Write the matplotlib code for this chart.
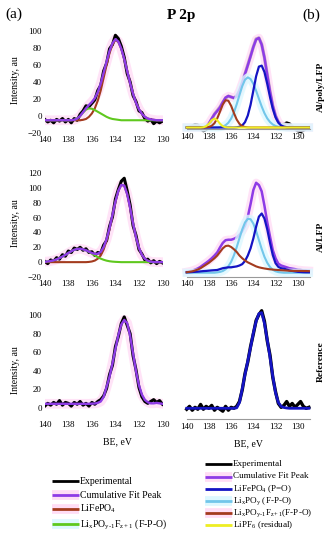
import numpy as np
import matplotlib
matplotlib.use("Agg")
import matplotlib.pyplot as plt
from matplotlib.lines import Line2D

plt.rcParams['font.family'] = ['Liberation Serif', 'DejaVu Serif']
plt.rcParams['mathtext.fontset'] = 'custom'
plt.rcParams['mathtext.rm'] = 'Liberation Serif'
plt.rcParams['mathtext.it'] = 'Liberation Serif:italic'

# binding energy grids (eV), 0.25 eV steps
be_left = np.linspace(140, 130, 41)
be_right = np.linspace(140, 129, 45)

# ---- (a) Al/poly/LFP ----
a1_exp = [-4, -7, -5, -8, -4, -6, -3, -7, -4, -8, -3, -5, 2, 6, 12, 11, 15, 19, 30, 36,
          53, 62, 79, 84, 95, 91, 82, 69, 50, 40, 24, 17, 6, 4, -3, -6, -4, -9, -6, -8, -6]
a1_cum = [-5, -5, -5, -5, -5, -5, -5, -5, -5, -5, -4.5, -3, 0, 4.5, 9, 13, 16.5, 21, 28, 38,
          51, 64, 76.5, 85.5, 90.5, 87.5, 79, 67, 53, 38.5, 26, 15.5, 8, 2.6, -1, -3, -4, -4.5, -5, -5, -5]
a1_lfp = [-5, -5, -5, -5, -5, -5, -5, -5, -5, -5, -5, -5, -5, -4.5, -3.5, -1, 3, 9, 18, 30,
          45, 60, 74, 84, 89.5, 87, 79, 67, 53, 38.5, 26, 15.5, 8, 2.6, -1, -3, -4, -4.5, -5, -5, -5]
a1_fpo = [-5, -5, -5, -5, -5, -5, -5, -5, -5, -5, -4.5, -3, 0, 4, 7.5, 9, 8.5, 7, 5, 3,
          1, -1, -2.5, -3.5, -4, -4.5, -5, -5, -5, -5, -5, -5, -5, -5, -5, -5, -5, -5, -5, -5, -5]

# ---- (a) Al/LFP ----
a2_exp = [1, -2, 3, 1, 6, 4, 10, 8, 15, 13, 19, 17, 20, 16, 18, 13, 14, 9, 13, 12,
          23, 29, 48, 61, 85, 98, 109, 113, 96, 77, 49, 36, 17, 11, 3, 4, -1, 2, -2, 1, -1]
a2_cum = [0.5, 0.9, 1.5, 2.4, 3.7, 5.5, 7.5, 9.9, 12.4, 14.7, 16.6, 17.7, 18, 17.3, 15.9, 14.1, 12.3, 11.1, 11.3, 13.7,
          20.2, 31, 45.7, 63.7, 81.4, 96.2, 104, 103, 91.5, 73, 52, 33.4, 19.2, 9.9, 4.6, 1.9, 0.7, 0.2, 0, 0, 0]
a2_lfp = [0, 0, 0, 0, 0, 0, 0, 0, 0, 0, 0, 0, 0, 0, 0, 0.3, 0.9, 2.1, 4.6, 9,
          17, 29, 44.5, 63, 81, 96, 104, 103, 91.5, 73, 52, 33.4, 19.2, 9.9, 4.6, 1.9, 0.7, 0.2, 0, 0, 0]
a2_fpo = [0.5, 0.9, 1.5, 2.4, 3.7, 5.5, 7.5, 9.9, 12.4, 14.7, 16.6, 17.7, 18, 17.3, 15.9, 13.8, 11.4, 9, 6.7, 4.7,
          3.2, 2, 1.2, 0.7, 0.4, 0.2, 0, 0, 0, 0, 0, 0, 0, 0, 0, 0, 0, 0, 0, 0, 0]

# ---- (a) Reference ----
a3_exp = [2, 5, 3, 6, 4, 8, 3, 6, 5, 2, 6, 4, 7, 3, 5, 2, 6, 4, 7, 9,
          13, 21, 36, 46, 66, 77, 91, 98, 89, 80, 56, 41, 22, 12, 7, 5, 7, 9, 6, 8, 4]
a3_cum = [4.5, 4.5, 4.5, 4.5, 4.5, 4.5, 4.5, 4.5, 4.5, 4.5, 4.5, 4.5, 4.5, 4.5, 4.5, 4.5, 4.7, 4.8, 5.5, 7,
          12, 22.7, 33.8, 47.9, 63.5, 78.5, 89.7, 94.8, 91.3, 77.6, 58.5, 39.5, 24.4, 14.4, 8.8, 6.2, 5, 5, 5.5, 5, 4.5]

# ---- (b) Al/poly/LFP ----
b1_exp = [0, 0.5, 1.5, 3, 2.5, -1, -3.5, -2, 3, 9, 15, 19, 23, 28, 33, 35, 34, 33, 35, 41,
          50, 60, 70, 80, 90, 99, 100, 93, 78, 59, 40, 24, 13, 6, 3, 3.5, 5, 4, 1, -1.5,
          -3.5, -4.5, -3, -1, 0]
b1_cum = [0, 0, 0, 0, 0, 0, 0.3, 1.6, 4.8, 10, 14.8, 18.5, 22.5, 28.2, 33.4, 35.2, 34.1, 33, 35, 41.2,
          50, 59.9, 69.5, 79.5, 90, 98.3, 100.1, 92.6, 78, 59, 40.1, 24.3, 13, 6.2, 2.7, 1.1, 0.3, 0.1, 0, 0,
          0, 0, 0, 0, 0]
b1_po = [0, 0, 0, 0, 0, 0, 0, 0, 0, 0, 0, 0, 0, 0, 0, 0, 0, 0, 0.2, 0.8,
         2.3, 6, 13.4, 25.4, 41.3, 57.3, 68, 69.1, 62, 48.8, 34, 20.9, 11.3, 5.4, 2.3, 0.9, 0.3, 0.1, 0, 0,
         0, 0, 0, 0, 0]
b1_fpo = [0, 0, 0, 0, 0, 0, 0, 0, 0, 0, 0.1, 0.2, 0.5, 1.1, 2.6, 5.3, 9.9, 16.8, 25.9, 36.3,
          46.2, 53.4, 56, 54.1, 48.7, 41, 32.1, 23.5, 16, 10.2, 6.1, 3.4, 1.7, 0.8, 0.4, 0.2, 0, 0, 0, 0,
          0, 0, 0, 0, 0]
b1_fpof = [0, 0, 0, 0, 0, 0, 0, 0.2, 0.6, 1.9, 4.8, 10.2, 17.8, 25.7, 30.5, 29.9, 24.2, 16.2, 8.9, 4.1,
           1.5, 0.5, 0.1, 0, 0, 0, 0, 0, 0, 0, 0, 0, 0, 0, 0, 0, 0, 0, 0, 0,
           0, 0, 0, 0, 0]
b1_lipf6 = [0, 0, 0, 0, 0, 0, 0.3, 1.4, 4.2, 8.1, 10, 8.1, 4.2, 1.4, 0.3, 0, 0, 0, 0, 0,
            0, 0, 0, 0, 0, 0, 0, 0, 0, 0, 0, 0, 0, 0, 0, 0, 0, 0, 0, 0,
            0, 0, 0, 0, 0]

# ---- (b) Al/LFP ----
b2_cum = [1, 1.6, 2.3, 3.5, 4.7, 6.5, 8.8, 11, 13.3, 16, 19, 22.5, 28, 33, 36, 36.5, 36.5, 37.5, 39, 42,
          46, 52, 62, 76, 91.5, 99.5, 97, 90, 74, 56, 40, 25, 16, 10, 8, 7, 6, 5, 4.5, 4,
          3.2, 3, 2.6, 2.4, 2.2]
b2_po = [0.5, 0.6, 0.8, 1, 1.2, 1.5, 1.8, 2, 2.3, 2.6, 2.8, 3, 4, 5, 5.5, 6, 6, 6.5, 7, 8,
         9.5, 13, 19, 27, 38, 51, 62, 65.5, 60, 48, 33, 19.5, 10.5, 6.5, 5, 4.5, 3.5, 2.5, 2, 1.5,
         1, 0.8, 0.6, 0.5, 0.5]
b2_fpo = [0, 0, 0, 0, 0, 0, 0, 0, 0, 0, 0, 0.4, 0.9, 1.9, 3.8, 7.1, 12.1, 19.2, 28.2, 38.2,
          47.9, 55.6, 59.6, 59.2, 54.3, 46.1, 36.2, 26.3, 17.6, 11, 6.3, 3.3, 1.6, 0.7, 0.3, 0, 0, 0, 0, 0,
          0, 0, 0, 0, 0]
b2_fpof = [0.5, 1, 1.5, 2.5, 3.5, 5, 7, 9, 11, 13.5, 16, 19, 23, 27, 29.5, 30, 28.5, 26, 23, 19,
           16, 13.5, 11.5, 10, 8.5, 7, 6, 5.3, 4.7, 4.2, 3.8, 3.5, 3.2, 3, 2.8, 2.6, 2.4, 2.2, 2, 2,
           2, 2, 1.9, 1.9, 1.8]

# ---- (b) Reference ----
b3_exp = [-1, 2, -2, 1, -1, 4, -1, 2, 0, 3, -2, 1, -1, -3, 2, -2, 1, 0, 2, 7,
          19, 36, 48, 64, 77, 91, 97, 101, 90, 70, 55, 32, 17, 5, 1, 3, 7, 2, 5, 1,
          4, 7, 2, 0, 1]
b3_po = [0, 0, 0, 0, 0, 0, 0, 0, 0, 0, 0, 0, 0, 0, 0, 0, 0, 0, 0.5, 6,
         20, 35, 49, 63, 78, 90, 98, 99, 88, 71, 53, 33, 16, 6, 2, 0.8, 0.3, 0, 0, 0,
         0, 0, 0, 0, 0]

xticks = [140, 138, 136, 134, 132, 130]

BLACK = '#000000'
PURPLE = '#8E3BE6'
PINK = '#FFDDF5'
CYAN = '#DDF8FF'
RED = '#A33B1E'
GREEN = '#5FC81E'
BLUE = '#1414C4'
LBLUE = '#72C6EA'
YELLOW = '#EEEE22'

W, H = 330, 550
fig = plt.figure(figsize=(3.3, 5.5), dpi=100)


def rect(x0, y0, x1, y1):
    # pixel box (top-left origin) -> figure coords
    return [x0 / W, 1 - y1 / H, (x1 - x0) / W, (y1 - y0) / H]


def left_panel(box, ylim, yticks, exp, cum, comps):
    ax = fig.add_axes(rect(*box))
    ax.plot(be_left, cum, color=PINK, lw=7, alpha=0.8)
    ax.plot(be_left, exp, color=BLACK, lw=2.2)
    for vals, col in comps:
        ax.plot(be_left, vals, color=col, lw=1.5)
    ax.plot(be_left, cum, color=PURPLE, lw=1.7)
    ax.set_xlim(140, 130)
    ax.set_ylim(*ylim)
    ax.set_xticks(xticks)
    ax.set_yticks(yticks)
    for s in ax.spines.values():
        s.set_visible(False)
    ax.tick_params(length=0, labelsize=6.5, pad=1)
    ax.tick_params(axis='x', pad=2.2)
    ax.tick_params(axis='y', pad=2)
    ax.patch.set_alpha(0)
    return ax


def right_panel(box, ylim, curves):
    ax = fig.add_axes(rect(*box))
    for vals, col, lw, halo in curves:
        if halo:
            ax.plot(be_right, vals, color=halo, lw=6, alpha=0.8, clip_on=False)
        ax.plot(be_right, vals, color=col, lw=lw, clip_on=False)
    ax.set_xlim(140, 128.9)
    ax.set_ylim(*ylim)
    ax.set_xticks(xticks)
    ax.set_yticks([])
    for k in ['left', 'top', 'right']:
        ax.spines[k].set_visible(False)
    ax.spines['bottom'].set_color('#999999')
    ax.spines['bottom'].set_linewidth(0.8)
    ax.tick_params(length=0, labelsize=6.5, pad=2.5)
    ax.patch.set_alpha(0)
    return ax


left_panel((44.8, 26.75, 162.5, 133), (-20, 105), range(-20, 101, 20),
           a1_exp, a1_cum, [(a1_lfp, RED), (a1_fpo, GREEN)])
left_panel((44.8, 169.3, 162.5, 277), (-20, 125), range(-20, 121, 20),
           a2_exp, a2_cum, [(a2_lfp, RED), (a2_fpo, GREEN)])
left_panel((44.8, 310.4, 162.5, 418.2), (-11, 105), range(0, 101, 20),
           a3_exp, a3_cum, [])

right_panel((186.7, 32.6, 310, 129.3), (-2, 106), [
    (b1_exp, BLACK, 2.4, None),
    (b1_cum, PURPLE, 1.8, PINK),
    (b1_fpo, LBLUE, 1.5, CYAN),
    (b1_po, BLUE, 1.6, None),
    (b1_fpof, RED, 1.5, None),
    (b1_lipf6, YELLOW, 1.5, None),
])
right_panel((186.7, 176.9, 310, 276.8), (-4.5, 106), [
    (b2_cum, PURPLE, 1.8, PINK),
    (b2_fpo, LBLUE, 1.5, CYAN),
    (b2_po, BLUE, 1.6, None),
    (b2_fpof, RED, 1.5, None),
])
right_panel((186.7, 305.9, 310, 419.3), (-11.4, 106), [
    (b3_exp, BLACK, 2.4, None),
    (b3_po, BLUE, 2.0, None),
])

# titles and labels
fig.text(5 / W, 1 - 14 / H, '(a)', fontsize=11, va='center', ha='left')
fig.text(320 / W, 1 - 15 / H, '(b)', fontsize=11, va='center', ha='right')
fig.text(181 / W, 1 - 15 / H, 'P 2p', fontsize=11, fontweight='bold', va='center', ha='center')

for yc in [80, 223, 370]:
    fig.text(16 / W, 1 - yc / H, 'Intensity, au', fontsize=7, rotation=90, va='center', ha='center')
fig.text(117 / W, 1 - 442 / H, 'BE, eV', fontsize=7, va='center', ha='center')
fig.text(248 / W, 1 - 444 / H, 'BE, eV', fontsize=7, va='center', ha='center')

for yc, lab in [(87, 'Al/poly/LFP'), (237, 'Al/LFP'), (362, 'Reference')]:
    fig.text(321 / W, 1 - yc / H, lab, fontsize=6.8, fontweight='bold', rotation=90,
             va='center', ha='center')


def legend_row(x0, x1, y, color, label, halo=None, size=7):
    yy = [1 - y / H] * 2
    xx = [x0 / W, x1 / W]
    if halo:
        fig.add_artist(Line2D(xx, yy, color=halo, lw=7, solid_capstyle='butt'))
    fig.add_artist(Line2D(xx, yy, color=color, lw=2, solid_capstyle='butt'))
    fig.text((x1 + 1) / W, 1 - y / H, label, fontsize=size, va='center', ha='left')


left_rows = [
    (BLACK, 'Experimental', None),
    (PURPLE, 'Cumulative Fit Peak', PINK),
    (RED, r'LiFePO$_4$', PINK),
    (GREEN, r'Li$_\mathrm{x}$PO$_\mathrm{y\text{-}1}$F$_\mathrm{z+1}$ (F-P-O)', CYAN),
]
for (col, lab, halo), y in zip(left_rows, [481, 495, 509, 524]):
    legend_row(52, 79, y, col, lab, halo)

right_rows = [
    (BLACK, 'Experimental', None),
    (PURPLE, 'Cumulative Fit Peak', PINK),
    (BLUE, r'LiFePO$_4$ (P=O)', None),
    (LBLUE, r'Li$_\mathrm{x}$PO$_\mathrm{y}$ (F-P-O)', CYAN),
    (RED, r'Li$_\mathrm{x}$PO$_\mathrm{y\text{-}1}$F$_\mathrm{z+1}$(F-P-O)', PINK),
    (YELLOW, r'LiPF$_6$ (residual)', None),
]
for (col, lab, halo), y in zip(right_rows, [464, 476.5, 489, 501, 513, 525]):
    legend_row(205, 232, y, col, lab, halo, size=6.6)

fig.savefig('out.png', dpi=100)
